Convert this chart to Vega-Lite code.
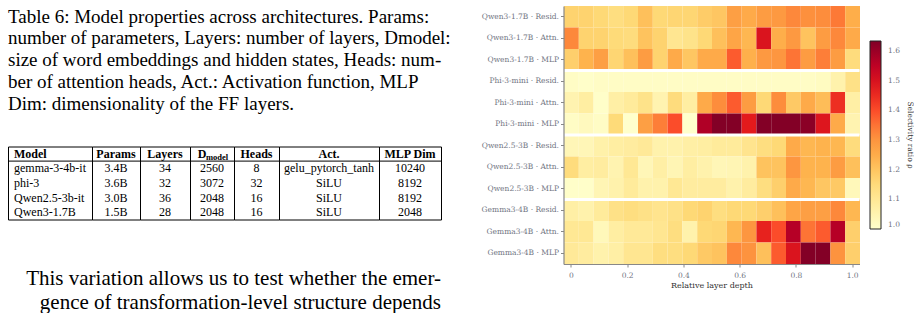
{
  "$schema": "https://vega.github.io/schema/vega-lite/v6.json",
  "background": "white",
  "padding": {"left": 7, "top": 6, "right": 0, "bottom": 0},
  "spacing": 29.5,
  "datasets": {
    "cap": [
      {"i":1,"t":"Table 6: Model properties across architectures. Params:"},
      {"i":2,"t":"number of parameters, Layers: number of layers, Dmodel:"},
      {"i":3,"t":"size of word embeddings and hidden states, Heads: num-"},
      {"i":4,"t":"ber of attention heads, Act.: Activation function, MLP"},
      {"i":5,"t":"Dim: dimensionality of the FF layers."}
    ],
    "par": [
      {"i":1,"t":"This variation allows us to test whether the emer-"},
      {"i":2,"t":"gence of transformation-level structure depends"}
    ],
    "heat": [
      {"c":"Qwen3-1.7B · Resid.","d":0,"v":1.171},{"c":"Qwen3-1.7B · Resid.","d":0.0526,"v":1.171},{"c":"Qwen3-1.7B · Resid.","d":0.1053,"v":1.159},{"c":"Qwen3-1.7B · Resid.","d":0.1579,"v":1.139},{"c":"Qwen3-1.7B · Resid.","d":0.2105,"v":1.159},{"c":"Qwen3-1.7B · Resid.","d":0.2632,"v":1.209},{"c":"Qwen3-1.7B · Resid.","d":0.3158,"v":1.159},{"c":"Qwen3-1.7B · Resid.","d":0.3684,"v":1.165},{"c":"Qwen3-1.7B · Resid.","d":0.4211,"v":1.165},{"c":"Qwen3-1.7B · Resid.","d":0.4737,"v":1.184},{"c":"Qwen3-1.7B · Resid.","d":0.5263,"v":1.197},{"c":"Qwen3-1.7B · Resid.","d":0.5789,"v":1.279},{"c":"Qwen3-1.7B · Resid.","d":0.6316,"v":1.254},{"c":"Qwen3-1.7B · Resid.","d":0.6842,"v":1.285},{"c":"Qwen3-1.7B · Resid.","d":0.7368,"v":1.292},{"c":"Qwen3-1.7B · Resid.","d":0.7895,"v":1.323},{"c":"Qwen3-1.7B · Resid.","d":0.8421,"v":1.311},{"c":"Qwen3-1.7B · Resid.","d":0.8947,"v":1.317},{"c":"Qwen3-1.7B · Resid.","d":0.9474,"v":1.342},{"c":"Qwen3-1.7B · Resid.","d":1,"v":1.247},
      {"c":"Qwen3-1.7B · Attn.","d":0,"v":1.323},{"c":"Qwen3-1.7B · Attn.","d":0.0526,"v":1.171},{"c":"Qwen3-1.7B · Attn.","d":0.1053,"v":1.171},{"c":"Qwen3-1.7B · Attn.","d":0.1579,"v":1.152},{"c":"Qwen3-1.7B · Attn.","d":0.2105,"v":1.146},{"c":"Qwen3-1.7B · Attn.","d":0.2632,"v":1.203},{"c":"Qwen3-1.7B · Attn.","d":0.3158,"v":1.171},{"c":"Qwen3-1.7B · Attn.","d":0.3684,"v":1.108},{"c":"Qwen3-1.7B · Attn.","d":0.4211,"v":1.12},{"c":"Qwen3-1.7B · Attn.","d":0.4737,"v":1.159},{"c":"Qwen3-1.7B · Attn.","d":0.5263,"v":1.209},{"c":"Qwen3-1.7B · Attn.","d":0.5789,"v":1.266},{"c":"Qwen3-1.7B · Attn.","d":0.6316,"v":1.228},{"c":"Qwen3-1.7B · Attn.","d":0.6842,"v":1.495},{"c":"Qwen3-1.7B · Attn.","d":0.7368,"v":1.247},{"c":"Qwen3-1.7B · Attn.","d":0.7895,"v":1.292},{"c":"Qwen3-1.7B · Attn.","d":0.8421,"v":1.203},{"c":"Qwen3-1.7B · Attn.","d":0.8947,"v":1.285},{"c":"Qwen3-1.7B · Attn.","d":0.9474,"v":1.323},{"c":"Qwen3-1.7B · Attn.","d":1,"v":1.254},
      {"c":"Qwen3-1.7B · MLP","d":0,"v":1.178},{"c":"Qwen3-1.7B · MLP","d":0.0526,"v":1.235},{"c":"Qwen3-1.7B · MLP","d":0.1053,"v":1.279},{"c":"Qwen3-1.7B · MLP","d":0.1579,"v":1.165},{"c":"Qwen3-1.7B · MLP","d":0.2105,"v":1.209},{"c":"Qwen3-1.7B · MLP","d":0.2632,"v":1.285},{"c":"Qwen3-1.7B · MLP","d":0.3158,"v":1.171},{"c":"Qwen3-1.7B · MLP","d":0.3684,"v":1.254},{"c":"Qwen3-1.7B · MLP","d":0.4211,"v":1.197},{"c":"Qwen3-1.7B · MLP","d":0.4737,"v":1.254},{"c":"Qwen3-1.7B · MLP","d":0.5263,"v":1.254},{"c":"Qwen3-1.7B · MLP","d":0.5789,"v":1.38},{"c":"Qwen3-1.7B · MLP","d":0.6316,"v":1.241},{"c":"Qwen3-1.7B · MLP","d":0.6842,"v":1.292},{"c":"Qwen3-1.7B · MLP","d":0.7368,"v":1.298},{"c":"Qwen3-1.7B · MLP","d":0.7895,"v":1.349},{"c":"Qwen3-1.7B · MLP","d":0.8421,"v":1.285},{"c":"Qwen3-1.7B · MLP","d":0.8947,"v":1.336},{"c":"Qwen3-1.7B · MLP","d":0.9474,"v":1.285},{"c":"Qwen3-1.7B · MLP","d":1,"v":1.146},
      {"c":"Phi-3-mini · Resid.","d":0,"v":1.013},{"c":"Phi-3-mini · Resid.","d":0.0526,"v":1.006},{"c":"Phi-3-mini · Resid.","d":0.1053,"v":1.013},{"c":"Phi-3-mini · Resid.","d":0.1579,"v":1.013},{"c":"Phi-3-mini · Resid.","d":0.2105,"v":1.013},{"c":"Phi-3-mini · Resid.","d":0.2632,"v":1.013},{"c":"Phi-3-mini · Resid.","d":0.3158,"v":1.013},{"c":"Phi-3-mini · Resid.","d":0.3684,"v":1.013},{"c":"Phi-3-mini · Resid.","d":0.4211,"v":1.013},{"c":"Phi-3-mini · Resid.","d":0.4737,"v":1.013},{"c":"Phi-3-mini · Resid.","d":0.5263,"v":1.013},{"c":"Phi-3-mini · Resid.","d":0.5789,"v":1.013},{"c":"Phi-3-mini · Resid.","d":0.6316,"v":1.013},{"c":"Phi-3-mini · Resid.","d":0.6842,"v":1.013},{"c":"Phi-3-mini · Resid.","d":0.7368,"v":1.013},{"c":"Phi-3-mini · Resid.","d":0.7895,"v":1.013},{"c":"Phi-3-mini · Resid.","d":0.8421,"v":1.013},{"c":"Phi-3-mini · Resid.","d":0.8947,"v":1.019},{"c":"Phi-3-mini · Resid.","d":0.9474,"v":1.057},{"c":"Phi-3-mini · Resid.","d":1,"v":1.127},
      {"c":"Phi-3-mini · Attn.","d":0,"v":1.051},{"c":"Phi-3-mini · Attn.","d":0.0526,"v":1.076},{"c":"Phi-3-mini · Attn.","d":0.1053,"v":1.006},{"c":"Phi-3-mini · Attn.","d":0.1579,"v":1.07},{"c":"Phi-3-mini · Attn.","d":0.2105,"v":1.089},{"c":"Phi-3-mini · Attn.","d":0.2632,"v":1.12},{"c":"Phi-3-mini · Attn.","d":0.3158,"v":1.051},{"c":"Phi-3-mini · Attn.","d":0.3684,"v":1.146},{"c":"Phi-3-mini · Attn.","d":0.4211,"v":1.076},{"c":"Phi-3-mini · Attn.","d":0.4737,"v":1.254},{"c":"Phi-3-mini · Attn.","d":0.5263,"v":1.317},{"c":"Phi-3-mini · Attn.","d":0.5789,"v":1.38},{"c":"Phi-3-mini · Attn.","d":0.6316,"v":1.285},{"c":"Phi-3-mini · Attn.","d":0.6842,"v":1.159},{"c":"Phi-3-mini · Attn.","d":0.7368,"v":1.317},{"c":"Phi-3-mini · Attn.","d":0.7895,"v":1.19},{"c":"Phi-3-mini · Attn.","d":0.8421,"v":1.254},{"c":"Phi-3-mini · Attn.","d":0.8947,"v":1.216},{"c":"Phi-3-mini · Attn.","d":0.9474,"v":1.444},{"c":"Phi-3-mini · Attn.","d":1,"v":1.07},
      {"c":"Phi-3-mini · MLP","d":0,"v":1.013},{"c":"Phi-3-mini · MLP","d":0.0526,"v":1.025},{"c":"Phi-3-mini · MLP","d":0.1053,"v":1.013},{"c":"Phi-3-mini · MLP","d":0.1579,"v":1.152},{"c":"Phi-3-mini · MLP","d":0.2105,"v":1.0},{"c":"Phi-3-mini · MLP","d":0.2632,"v":1.279},{"c":"Phi-3-mini · MLP","d":0.3158,"v":1.336},{"c":"Phi-3-mini · MLP","d":0.3684,"v":1.399},{"c":"Phi-3-mini · MLP","d":0.4211,"v":1.0},{"c":"Phi-3-mini · MLP","d":0.4737,"v":1.571},{"c":"Phi-3-mini · MLP","d":0.5263,"v":1.63},{"c":"Phi-3-mini · MLP","d":0.5789,"v":1.63},{"c":"Phi-3-mini · MLP","d":0.6316,"v":1.476},{"c":"Phi-3-mini · MLP","d":0.6842,"v":1.63},{"c":"Phi-3-mini · MLP","d":0.7368,"v":1.63},{"c":"Phi-3-mini · MLP","d":0.7895,"v":1.63},{"c":"Phi-3-mini · MLP","d":0.8421,"v":1.62},{"c":"Phi-3-mini · MLP","d":0.8947,"v":1.488},{"c":"Phi-3-mini · MLP","d":0.9474,"v":1.254},{"c":"Phi-3-mini · MLP","d":1,"v":1.051},
      {"c":"Qwen2.5-3B · Resid.","d":0,"v":1.038},{"c":"Qwen2.5-3B · Resid.","d":0.0526,"v":1.038},{"c":"Qwen2.5-3B · Resid.","d":0.1053,"v":1.063},{"c":"Qwen2.5-3B · Resid.","d":0.1579,"v":1.076},{"c":"Qwen2.5-3B · Resid.","d":0.2105,"v":1.082},{"c":"Qwen2.5-3B · Resid.","d":0.2632,"v":1.095},{"c":"Qwen2.5-3B · Resid.","d":0.3158,"v":1.057},{"c":"Qwen2.5-3B · Resid.","d":0.3684,"v":1.057},{"c":"Qwen2.5-3B · Resid.","d":0.4211,"v":1.07},{"c":"Qwen2.5-3B · Resid.","d":0.4737,"v":1.076},{"c":"Qwen2.5-3B · Resid.","d":0.5263,"v":1.089},{"c":"Qwen2.5-3B · Resid.","d":0.5789,"v":1.089},{"c":"Qwen2.5-3B · Resid.","d":0.6316,"v":1.114},{"c":"Qwen2.5-3B · Resid.","d":0.6842,"v":1.139},{"c":"Qwen2.5-3B · Resid.","d":0.7368,"v":1.159},{"c":"Qwen2.5-3B · Resid.","d":0.7895,"v":1.254},{"c":"Qwen2.5-3B · Resid.","d":0.8421,"v":1.228},{"c":"Qwen2.5-3B · Resid.","d":0.8947,"v":1.235},{"c":"Qwen2.5-3B · Resid.","d":0.9474,"v":1.228},{"c":"Qwen2.5-3B · Resid.","d":1,"v":1.146},
      {"c":"Qwen2.5-3B · Attn.","d":0,"v":1.146},{"c":"Qwen2.5-3B · Attn.","d":0.0526,"v":1.076},{"c":"Qwen2.5-3B · Attn.","d":0.1053,"v":1.082},{"c":"Qwen2.5-3B · Attn.","d":0.1579,"v":1.051},{"c":"Qwen2.5-3B · Attn.","d":0.2105,"v":1.101},{"c":"Qwen2.5-3B · Attn.","d":0.2632,"v":1.038},{"c":"Qwen2.5-3B · Attn.","d":0.3158,"v":1.07},{"c":"Qwen2.5-3B · Attn.","d":0.3684,"v":1.044},{"c":"Qwen2.5-3B · Attn.","d":0.4211,"v":1.076},{"c":"Qwen2.5-3B · Attn.","d":0.4737,"v":1.057},{"c":"Qwen2.5-3B · Attn.","d":0.5263,"v":1.038},{"c":"Qwen2.5-3B · Attn.","d":0.5789,"v":1.044},{"c":"Qwen2.5-3B · Attn.","d":0.6316,"v":1.057},{"c":"Qwen2.5-3B · Attn.","d":0.6842,"v":1.203},{"c":"Qwen2.5-3B · Attn.","d":0.7368,"v":1.203},{"c":"Qwen2.5-3B · Attn.","d":0.7895,"v":1.298},{"c":"Qwen2.5-3B · Attn.","d":0.8421,"v":1.235},{"c":"Qwen2.5-3B · Attn.","d":0.8947,"v":1.235},{"c":"Qwen2.5-3B · Attn.","d":0.9474,"v":1.285},{"c":"Qwen2.5-3B · Attn.","d":1,"v":1.209},
      {"c":"Qwen2.5-3B · MLP","d":0,"v":1.006},{"c":"Qwen2.5-3B · MLP","d":0.0526,"v":1.006},{"c":"Qwen2.5-3B · MLP","d":0.1053,"v":1.044},{"c":"Qwen2.5-3B · MLP","d":0.1579,"v":1.057},{"c":"Qwen2.5-3B · MLP","d":0.2105,"v":1.089},{"c":"Qwen2.5-3B · MLP","d":0.2632,"v":1.057},{"c":"Qwen2.5-3B · MLP","d":0.3158,"v":1.057},{"c":"Qwen2.5-3B · MLP","d":0.3684,"v":1.101},{"c":"Qwen2.5-3B · MLP","d":0.4211,"v":1.082},{"c":"Qwen2.5-3B · MLP","d":0.4737,"v":1.082},{"c":"Qwen2.5-3B · MLP","d":0.5263,"v":1.082},{"c":"Qwen2.5-3B · MLP","d":0.5789,"v":1.057},{"c":"Qwen2.5-3B · MLP","d":0.6316,"v":1.082},{"c":"Qwen2.5-3B · MLP","d":0.6842,"v":1.139},{"c":"Qwen2.5-3B · MLP","d":0.7368,"v":1.178},{"c":"Qwen2.5-3B · MLP","d":0.7895,"v":1.254},{"c":"Qwen2.5-3B · MLP","d":0.8421,"v":1.228},{"c":"Qwen2.5-3B · MLP","d":0.8947,"v":1.197},{"c":"Qwen2.5-3B · MLP","d":0.9474,"v":1.19},{"c":"Qwen2.5-3B · MLP","d":1,"v":1.032},
      {"c":"Gemma3-4B · Resid.","d":0,"v":1.07},{"c":"Gemma3-4B · Resid.","d":0.0526,"v":1.057},{"c":"Gemma3-4B · Resid.","d":0.1053,"v":1.089},{"c":"Gemma3-4B · Resid.","d":0.1579,"v":1.127},{"c":"Gemma3-4B · Resid.","d":0.2105,"v":1.139},{"c":"Gemma3-4B · Resid.","d":0.2632,"v":1.127},{"c":"Gemma3-4B · Resid.","d":0.3158,"v":1.114},{"c":"Gemma3-4B · Resid.","d":0.3684,"v":1.127},{"c":"Gemma3-4B · Resid.","d":0.4211,"v":1.159},{"c":"Gemma3-4B · Resid.","d":0.4737,"v":1.171},{"c":"Gemma3-4B · Resid.","d":0.5263,"v":1.139},{"c":"Gemma3-4B · Resid.","d":0.5789,"v":1.159},{"c":"Gemma3-4B · Resid.","d":0.6316,"v":1.159},{"c":"Gemma3-4B · Resid.","d":0.6842,"v":1.178},{"c":"Gemma3-4B · Resid.","d":0.7368,"v":1.209},{"c":"Gemma3-4B · Resid.","d":0.7895,"v":1.266},{"c":"Gemma3-4B · Resid.","d":0.8421,"v":1.279},{"c":"Gemma3-4B · Resid.","d":0.8947,"v":1.279},{"c":"Gemma3-4B · Resid.","d":0.9474,"v":1.323},{"c":"Gemma3-4B · Resid.","d":1,"v":1.228},
      {"c":"Gemma3-4B · Attn.","d":0,"v":1.101},{"c":"Gemma3-4B · Attn.","d":0.0526,"v":1.101},{"c":"Gemma3-4B · Attn.","d":0.1053,"v":1.032},{"c":"Gemma3-4B · Attn.","d":0.1579,"v":1.076},{"c":"Gemma3-4B · Attn.","d":0.2105,"v":1.095},{"c":"Gemma3-4B · Attn.","d":0.2632,"v":1.095},{"c":"Gemma3-4B · Attn.","d":0.3158,"v":1.108},{"c":"Gemma3-4B · Attn.","d":0.3684,"v":1.139},{"c":"Gemma3-4B · Attn.","d":0.4211,"v":1.057},{"c":"Gemma3-4B · Attn.","d":0.4737,"v":1.159},{"c":"Gemma3-4B · Attn.","d":0.5263,"v":1.165},{"c":"Gemma3-4B · Attn.","d":0.5789,"v":1.228},{"c":"Gemma3-4B · Attn.","d":0.6316,"v":1.298},{"c":"Gemma3-4B · Attn.","d":0.6842,"v":1.463},{"c":"Gemma3-4B · Attn.","d":0.7368,"v":1.399},{"c":"Gemma3-4B · Attn.","d":0.7895,"v":1.564},{"c":"Gemma3-4B · Attn.","d":0.8421,"v":1.349},{"c":"Gemma3-4B · Attn.","d":0.8947,"v":1.38},{"c":"Gemma3-4B · Attn.","d":0.9474,"v":1.564},{"c":"Gemma3-4B · Attn.","d":1,"v":1.178},
      {"c":"Gemma3-4B · MLP","d":0,"v":1.095},{"c":"Gemma3-4B · MLP","d":0.0526,"v":1.082},{"c":"Gemma3-4B · MLP","d":0.1053,"v":1.057},{"c":"Gemma3-4B · MLP","d":0.1579,"v":1.07},{"c":"Gemma3-4B · MLP","d":0.2105,"v":1.108},{"c":"Gemma3-4B · MLP","d":0.2632,"v":1.108},{"c":"Gemma3-4B · MLP","d":0.3158,"v":1.139},{"c":"Gemma3-4B · MLP","d":0.3684,"v":1.139},{"c":"Gemma3-4B · MLP","d":0.4211,"v":1.159},{"c":"Gemma3-4B · MLP","d":0.4737,"v":1.19},{"c":"Gemma3-4B · MLP","d":0.5263,"v":1.203},{"c":"Gemma3-4B · MLP","d":0.5789,"v":1.323},{"c":"Gemma3-4B · MLP","d":0.6316,"v":1.304},{"c":"Gemma3-4B · MLP","d":0.6842,"v":1.209},{"c":"Gemma3-4B · MLP","d":0.7368,"v":1.38},{"c":"Gemma3-4B · MLP","d":0.7895,"v":1.495},{"c":"Gemma3-4B · MLP","d":0.8421,"v":1.63},{"c":"Gemma3-4B · MLP","d":0.8947,"v":1.63},{"c":"Gemma3-4B · MLP","d":0.9474,"v":1.304},{"c":"Gemma3-4B · MLP","d":1,"v":1.178}
    ],
    "tbl": [
      {"r":0,"col":"Model","t":"Model"},{"r":0,"col":"Params","t":"Params"},{"r":0,"col":"Layers","t":"Layers"},{"r":0,"col":"Dmodel","t":"D","sub":"model"},{"r":0,"col":"Heads","t":"Heads"},{"r":0,"col":"Act.","t":"Act."},{"r":0,"col":"MLP Dim","t":"MLP Dim"},
      {"r":1,"col":"Model","t":"gemma-3-4b-it"},{"r":1,"col":"Params","t":"3.4B"},{"r":1,"col":"Layers","t":"34"},{"r":1,"col":"Dmodel","t":"2560"},{"r":1,"col":"Heads","t":"8"},{"r":1,"col":"Act.","t":"gelu_pytorch_tanh"},{"r":1,"col":"MLP Dim","t":"10240"},
      {"r":2,"col":"Model","t":"phi-3"},{"r":2,"col":"Params","t":"3.6B"},{"r":2,"col":"Layers","t":"32"},{"r":2,"col":"Dmodel","t":"3072"},{"r":2,"col":"Heads","t":"32"},{"r":2,"col":"Act.","t":"SiLU"},{"r":2,"col":"MLP Dim","t":"8192"},
      {"r":3,"col":"Model","t":"Qwen2.5-3b-it"},{"r":3,"col":"Params","t":"3.0B"},{"r":3,"col":"Layers","t":"36"},{"r":3,"col":"Dmodel","t":"2048"},{"r":3,"col":"Heads","t":"16"},{"r":3,"col":"Act.","t":"SiLU"},{"r":3,"col":"MLP Dim","t":"8192"},
      {"r":4,"col":"Model","t":"Qwen3-1.7B"},{"r":4,"col":"Params","t":"1.5B"},{"r":4,"col":"Layers","t":"28"},{"r":4,"col":"Dmodel","t":"2048"},{"r":4,"col":"Heads","t":"16"},{"r":4,"col":"Act.","t":"SiLU"},{"r":4,"col":"MLP Dim","t":"2048"}
    ]
  },
  "hconcat": [
    {
      "spacing": 30.5,
      "vconcat": [
        {
          "width": 433, "height": 108.5,
          "data": {"name": "cap"},
          "mark": {"type": "text", "font": "Liberation Serif", "fontSize": 19, "align": "left", "baseline": "alphabetic", "dy": 5.85, "color": "black"},
          "encoding": {"x": {"value": 0}, "y": {"field": "i", "type": "ordinal", "axis": null, "scale": {"paddingInner": 0, "paddingOuter": 0}}, "text": {"field": "t"}}
        },
        {
          "data": {"name": "tbl"},
          "spacing": 0,
          "bounds": "flush",
          "hconcat": [
            {
              "width": 84, "height": 73, "view": {"stroke": "black", "strokeWidth": 1},
              "transform": [{"filter": {"field": "col", "equal": "Model"}}],
              "encoding": {"y": {"field": "r", "type": "ordinal", "axis": null, "scale": {"domain": [0,1,2,3,4], "paddingInner": 0, "paddingOuter": 0}}},
              "layer": [
                {"transform": [{"filter": "datum.r == 0"}], "mark": {"type": "text", "font": "Liberation Serif", "fontSize": 12, "fontWeight": "bold", "color": "black", "align": "left"}, "encoding": {"x": {"value": 6}, "text": {"field": "t"}}},
                {"transform": [{"filter": "datum.r > 0"}], "mark": {"type": "text", "font": "Liberation Serif", "fontSize": 12, "color": "black", "align": "left"}, "encoding": {"x": {"value": 6}, "text": {"field": "t"}}},
                {"transform": [{"filter": "datum.r == 0"}], "mark": {"type": "rule", "color": "black", "strokeWidth": 1}, "encoding": {"y": {"field": "r", "type": "ordinal", "bandPosition": 1}}}
              ]
            },
            {
              "width": 48, "height": 73, "view": {"stroke": "black", "strokeWidth": 1},
              "transform": [{"filter": {"field": "col", "equal": "Params"}}],
              "encoding": {"y": {"field": "r", "type": "ordinal", "axis": null, "scale": {"domain": [0,1,2,3,4], "paddingInner": 0, "paddingOuter": 0}}},
              "layer": [
                {"transform": [{"filter": "datum.r == 0"}], "mark": {"type": "text", "font": "Liberation Serif", "fontSize": 12, "fontWeight": "bold", "color": "black"}, "encoding": {"text": {"field": "t"}}},
                {"transform": [{"filter": "datum.r > 0"}], "mark": {"type": "text", "font": "Liberation Serif", "fontSize": 12, "color": "black"}, "encoding": {"text": {"field": "t"}}},
                {"transform": [{"filter": "datum.r == 0"}], "mark": {"type": "rule", "color": "black", "strokeWidth": 1}, "encoding": {"y": {"field": "r", "type": "ordinal", "bandPosition": 1}}}
              ]
            },
            {
              "width": 50, "height": 73, "view": {"stroke": "black", "strokeWidth": 1},
              "transform": [{"filter": {"field": "col", "equal": "Layers"}}],
              "encoding": {"y": {"field": "r", "type": "ordinal", "axis": null, "scale": {"domain": [0,1,2,3,4], "paddingInner": 0, "paddingOuter": 0}}},
              "layer": [
                {"transform": [{"filter": "datum.r == 0"}], "mark": {"type": "text", "font": "Liberation Serif", "fontSize": 12, "fontWeight": "bold", "color": "black"}, "encoding": {"text": {"field": "t"}}},
                {"transform": [{"filter": "datum.r > 0"}], "mark": {"type": "text", "font": "Liberation Serif", "fontSize": 12, "color": "black"}, "encoding": {"text": {"field": "t"}}},
                {"transform": [{"filter": "datum.r == 0"}], "mark": {"type": "rule", "color": "black", "strokeWidth": 1}, "encoding": {"y": {"field": "r", "type": "ordinal", "bandPosition": 1}}}
              ]
            },
            {
              "width": 44, "height": 73, "view": {"stroke": "black", "strokeWidth": 1},
              "transform": [{"filter": {"field": "col", "equal": "Dmodel"}}],
              "encoding": {"y": {"field": "r", "type": "ordinal", "axis": null, "scale": {"domain": [0,1,2,3,4], "paddingInner": 0, "paddingOuter": 0}}},
              "layer": [
                {"transform": [{"filter": "datum.r == 0"}], "mark": {"type": "text", "font": "Liberation Serif", "fontSize": 12, "fontWeight": "bold", "color": "black", "dx": -10}, "encoding": {"text": {"field": "t"}}},
                {"transform": [{"filter": "datum.r == 0"}], "mark": {"type": "text", "font": "Liberation Serif", "fontSize": 8.5, "fontWeight": "bold", "color": "black", "dx": 5, "dy": 3}, "encoding": {"text": {"field": "sub"}}},
                {"transform": [{"filter": "datum.r > 0"}], "mark": {"type": "text", "font": "Liberation Serif", "fontSize": 12, "color": "black"}, "encoding": {"text": {"field": "t"}}},
                {"transform": [{"filter": "datum.r == 0"}], "mark": {"type": "rule", "color": "black", "strokeWidth": 1}, "encoding": {"y": {"field": "r", "type": "ordinal", "bandPosition": 1}}}
              ]
            },
            {
              "width": 45, "height": 73, "view": {"stroke": "black", "strokeWidth": 1},
              "transform": [{"filter": {"field": "col", "equal": "Heads"}}],
              "encoding": {"y": {"field": "r", "type": "ordinal", "axis": null, "scale": {"domain": [0,1,2,3,4], "paddingInner": 0, "paddingOuter": 0}}},
              "layer": [
                {"transform": [{"filter": "datum.r == 0"}], "mark": {"type": "text", "font": "Liberation Serif", "fontSize": 12, "fontWeight": "bold", "color": "black"}, "encoding": {"text": {"field": "t"}}},
                {"transform": [{"filter": "datum.r > 0"}], "mark": {"type": "text", "font": "Liberation Serif", "fontSize": 12, "color": "black"}, "encoding": {"text": {"field": "t"}}},
                {"transform": [{"filter": "datum.r == 0"}], "mark": {"type": "rule", "color": "black", "strokeWidth": 1}, "encoding": {"y": {"field": "r", "type": "ordinal", "bandPosition": 1}}}
              ]
            },
            {
              "width": 100, "height": 73, "view": {"stroke": "black", "strokeWidth": 1},
              "transform": [{"filter": {"field": "col", "equal": "Act."}}],
              "encoding": {"y": {"field": "r", "type": "ordinal", "axis": null, "scale": {"domain": [0,1,2,3,4], "paddingInner": 0, "paddingOuter": 0}}},
              "layer": [
                {"transform": [{"filter": "datum.r == 0"}], "mark": {"type": "text", "font": "Liberation Serif", "fontSize": 12, "fontWeight": "bold", "color": "black"}, "encoding": {"text": {"field": "t"}}},
                {"transform": [{"filter": "datum.r > 0"}], "mark": {"type": "text", "font": "Liberation Serif", "fontSize": 12, "color": "black"}, "encoding": {"text": {"field": "t"}}},
                {"transform": [{"filter": "datum.r == 0"}], "mark": {"type": "rule", "color": "black", "strokeWidth": 1}, "encoding": {"y": {"field": "r", "type": "ordinal", "bandPosition": 1}}}
              ]
            },
            {
              "width": 62, "height": 73, "view": {"stroke": "black", "strokeWidth": 1},
              "transform": [{"filter": {"field": "col", "equal": "MLP Dim"}}],
              "encoding": {"y": {"field": "r", "type": "ordinal", "axis": null, "scale": {"domain": [0,1,2,3,4], "paddingInner": 0, "paddingOuter": 0}}},
              "layer": [
                {"transform": [{"filter": "datum.r == 0"}], "mark": {"type": "text", "font": "Liberation Serif", "fontSize": 12, "fontWeight": "bold", "color": "black"}, "encoding": {"text": {"field": "t"}}},
                {"transform": [{"filter": "datum.r > 0"}], "mark": {"type": "text", "font": "Liberation Serif", "fontSize": 12, "color": "black"}, "encoding": {"text": {"field": "t"}}},
                {"transform": [{"filter": "datum.r == 0"}], "mark": {"type": "rule", "color": "black", "strokeWidth": 1}, "encoding": {"y": {"field": "r", "type": "ordinal", "bandPosition": 1}}}
              ]
            }
          ]
        },
        {
          "width": 433, "height": 48,
          "data": {"name": "par"},
          "mark": {"type": "text", "font": "Liberation Serif", "fontSize": 21, "align": "right", "baseline": "alphabetic", "dy": 21.5, "color": "black"},
          "encoding": {"x": {"value": 433}, "y": {"field": "i", "type": "ordinal", "axis": null, "scale": {"paddingInner": 0, "paddingOuter": 0}}, "text": {"field": "t"}}
        }
      ]
    },
    {
      "width": 296,
      "height": 258,
      "data": {"name": "heat"},
      "encoding": {
        "y": {"field": "c", "type": "nominal", "title": null,
          "sort": ["Qwen3-1.7B · Resid.","Qwen3-1.7B · Attn.","Qwen3-1.7B · MLP","Phi-3-mini · Resid.","Phi-3-mini · Attn.","Phi-3-mini · MLP","Qwen2.5-3B · Resid.","Qwen2.5-3B · Attn.","Qwen2.5-3B · MLP","Gemma3-4B · Resid.","Gemma3-4B · Attn.","Gemma3-4B · MLP"],
          "scale": {"paddingInner": 0, "paddingOuter": 0},
          "axis": {"labelFont": "DejaVu Serif", "labelFontSize": 7.5, "labelColor": "#70747f", "tickColor": "#888888", "tickSize": 3, "domainColor": "#888888", "domainWidth": 1.2, "labelPadding": 2}}
      },
      "layer": [
        {
          "mark": {"type": "rect"},
          "encoding": {
            "x": {"field": "d", "type": "quantitative", "title": "Relative layer depth",
              "bin": {"extent": [-0.0263158, 1.0263158], "step": 0.0526316, "nice": false},
              "scale": {"domain": [-0.0263158, 1.0263158], "nice": false, "zero": false},
              "axis": {"values": [0, 0.2, 0.4, 0.6, 0.8, 1.0], "labelExpr": "datum.value == 0 ? '0' : format(datum.value, '.1f')", "labelFont": "DejaVu Serif", "labelFontSize": 7.5, "labelColor": "#70747f", "tickColor": "#888888", "tickSize": 3, "domainColor": "#888888", "domainWidth": 1.2, "grid": false, "labelPadding": 4, "labelFlush": false, "titleFont": "DejaVu Serif", "titleFontSize": 8, "titleFontWeight": "normal", "titleColor": "#333333", "titlePadding": 3}},
            "color": {"field": "v", "type": "quantitative",
              "scale": {"domain": [1.0, 1.07925, 1.1585, 1.23775, 1.317, 1.39625, 1.4755, 1.55475, 1.634], "range": ["#ffffcc", "#ffeda0", "#fed976", "#feb24c", "#fd8d3c", "#fc4e2a", "#e31a1c", "#bd0026", "#800026"], "interpolate": "rgb", "clamp": true},
              "legend": {"orient": "none", "legendX": 862, "legendY": 35, "direction": "vertical", "gradientLength": 188, "gradientThickness": 11, "gradientStrokeColor": "#222222", "gradientStrokeWidth": 1, "values": [1.0, 1.1, 1.2, 1.3, 1.4, 1.5, 1.6], "format": ".1f", "labelFont": "DejaVu Serif", "labelFontSize": 7.5, "labelColor": "#70747f", "labelOffset": 7, "title": "Selectivity ratio ρ", "titleOrient": "right", "titleAngle": 270, "titleAnchor": "middle", "titleFont": "DejaVu Serif", "titleFontSize": 7.5, "titleFontWeight": "normal", "titleColor": "#333333", "titlePadding": 6}}
          }
        },
        {
          "transform": [{"filter": {"field": "c", "oneOf": ["Qwen3-1.7B · MLP", "Phi-3-mini · MLP", "Qwen2.5-3B · MLP"]}}, {"filter": "datum.d == 0"}],
          "mark": {"type": "rule", "color": "white", "strokeWidth": 3},
          "encoding": {"y": {"field": "c", "type": "nominal", "bandPosition": 1, "sort": ["Qwen3-1.7B · Resid.","Qwen3-1.7B · Attn.","Qwen3-1.7B · MLP","Phi-3-mini · Resid.","Phi-3-mini · Attn.","Phi-3-mini · MLP","Qwen2.5-3B · Resid.","Qwen2.5-3B · Attn.","Qwen2.5-3B · MLP","Gemma3-4B · Resid.","Gemma3-4B · Attn.","Gemma3-4B · MLP"]}}
        }
      ]
    }
  ],
  "config": {"view": {"stroke": null}}
}
